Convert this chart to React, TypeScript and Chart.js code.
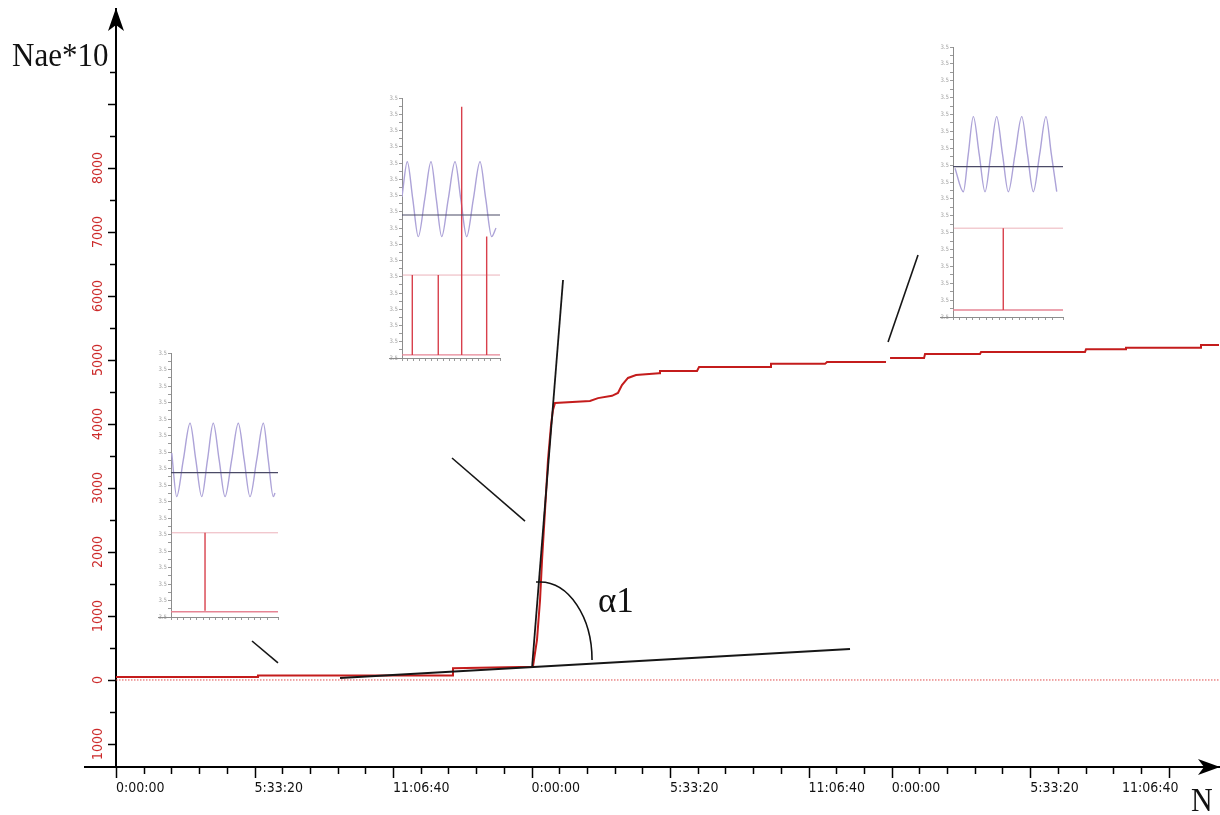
import React, { useEffect, useRef } from 'react';
import { Chart, registerables } from 'chart.js';

Chart.register(...registerables);

const TICK_FONT = "'DejaVu Sans Condensed', 'DejaVu Sans', sans-serif";
const SERIF_FONT = "'Liberation Serif', 'DejaVu Serif', serif";

// ---------------- main chart: axes ----------------
const xMin = 0;
const xMax = 159270;
const yMin = -1360;
const yMax = 10470;

const xLabelValues = [0, 20000, 40000, 60000, 80000, 100000, 112000, 132000, 145270];
const xLabels = ['0:00:00', '5:33:20', '11:06:40', '0:00:00', '5:33:20', '11:06:40', '0:00:00', '5:33:20', '11:06:40'];
const xMajorTicks = [0, 20000, 40000, 60000, 80000, 100000, 112000, 132000, 152000];
const xMinorStep = 4000;

const yLabelValues = [-1000, 0, 1000, 2000, 3000, 4000, 5000, 6000, 7000, 8000];
const yLabels = ['1000', '0', '1000', '2000', '3000', '4000', '5000', '6000', '7000', '8000'];
const yMarkValues = [-1000, -500, 0, 500, 1000, 1500, 2000, 2500, 3000, 3500, 4000, 4500, 5000, 5500, 6000, 6500, 7000, 7500, 8000, 8500, 9000, 9500];

// ---------------- main chart: series ----------------
const curveN = [0, 20500, 20500, 48660, 48660, 60200, 60790, 61230, 61520, 61950, 62380, 62820, 63100, 63390, 68440, 69600, 71620, 72480, 73060, 73930, 75090, 78410, 78550, 83900, 84190, 94440, 94580, 102380, 102670, 111190, 111480, 111770, 116680, 116820, 124760, 124910, 139920, 140070, 145700, 145840, 156530, 156670, 159270];
const curveNae = [45, 45, 70, 70, 185, 205, 625, 1250, 1875, 2655, 3440, 3985, 4220, 4330, 4360, 4405, 4440, 4485, 4610, 4720, 4765, 4795, 4830, 4830, 4890, 4890, 4940, 4940, 4970, 4970, null, 5030, 5030, 5095, 5095, 5125, 5125, 5170, 5170, 5190, 5190, 5235, 5235];

const zeroN = [0, 159270];
const zeroNae = [0, 0];

const tangentLowN = [32350, 105990];
const tangentLowNae = [31, 484];
const tangentSteepN = [60070, 64550];
const tangentSteepNae = [187, 6250];
const pointer1N = [19640, 23390];
const pointer1Nae = [609, 266];
const pointer2N = [48520, 59060];
const pointer2Nae = [3469, 2484];
const pointer3N = [115810, 111480];
const pointer3Nae = [6641, 5281];

// angle arc (centre in data units, radii in px)
const angleArc = { n: 61230, nae: 312, rx: 52, ry: 78 };

// free texts
const texts = {
  yTitle: { text: 'Nae*10', x: 12, y: 66, size: 31, sy: 1.12 },
  xTitle: { text: 'N', x: 1191, y: 811, size: 30, sy: 1.12 },
  angle: { text: 'α1', x: 598, y: 612, size: 35, sy: 1.0 },
};

// ---------------- insets ----------------
const inset1SineX = [0.7, 5.3, 11.5, 17.8, 23.2, 28.7, 34.1, 39.5, 45, 50.5, 56.7, 62.9, 68.4, 73.8, 80.1, 86.3, 90.9, 95.6, 97.2];
const inset1SineY = [62.1, 45.6, 59.5, 73.4, 59.5, 45.6, 59.5, 73.4, 59.5, 45.6, 59.5, 73.4, 59.5, 45.6, 59.5, 73.4, 59.5, 45.6, 47];
const inset1Levels = [54.7, 31.9, 2.0]; // baseline, threshold, bottom
const inset1SpikeX = [31.8];
const inset1SpikeTop = [31.9];
const inset1SpikeBase = [2.4];

const inset2SineX = [0, 5.4, 11, 16.6, 23.2, 29.6, 35, 40.5, 47.2, 54.1, 60, 66, 72.8, 79.6, 85.5, 91.5, 95.9];
const inset2SineY = [62, 75.5, 61.1, 46.7, 61.1, 75.5, 61.1, 46.7, 61.1, 75.5, 61.1, 46.7, 61.1, 75.5, 61.1, 46.7, 50];
const inset2Levels = [55, 31.9, 1.2];
const inset2SpikeX = [10.5, 37, 60.9, 86.4];
const inset2SpikeTop = [31.9, 31.9, 96.6, 46.7];
const inset2SpikeBase = [1.2, 1.2, 1.2, 1.2];

const inset3SineX = [1.8, 9.4, 13.9, 18.5, 23.8, 29.1, 34.4, 39.7, 45, 50.3, 56.4, 62.5, 67.7, 73, 78.8, 84.5, 89.4, 94.3];
const inset3SineY = [55.1, 46.4, 60.3, 74.2, 60.3, 46.4, 60.3, 74.2, 60.3, 46.4, 60.3, 74.2, 60.3, 46.4, 60.3, 74.2, 60.3, 46.4];
const inset3Levels = [55.7, 32.9, 2.6];
const inset3SpikeX = [45.7];
const inset3SpikeTop = [32.9];
const inset3SpikeBase = [2.6];

const insetTickLabel = '3.5';

const insets = [
  { frame: { left: 171, right: 278, top: 353, bottom: 617 }, sineX: inset1SineX, sineY: inset1SineY, levels: inset1Levels, spikeX: inset1SpikeX, spikeTop: inset1SpikeTop, spikeBase: inset1SpikeBase },
  { frame: { left: 402, right: 500, top: 98, bottom: 358 }, sineX: inset2SineX, sineY: inset2SineY, levels: inset2Levels, spikeX: inset2SpikeX, spikeTop: inset2SpikeTop, spikeBase: inset2SpikeBase },
  { frame: { left: 953, right: 1063, top: 47, bottom: 317 }, sineX: inset3SineX, sineY: inset3SineY, levels: inset3Levels, spikeX: inset3SpikeX, spikeTop: inset3SpikeTop, spikeBase: inset3SpikeBase },
];

const INSET_PAD = { left: 18, top: 4, right: 4, bottom: 9 };

// ---------------- helpers ----------------
const pts = (xs: number[], ys: (number | null)[]) => xs.map((x, i) => ({ x, y: ys[i] }));

function zeroPad(s: any) {
  s.paddingLeft = 0;
  s.paddingRight = 0;
  s.paddingTop = 0;
  s.paddingBottom = 0;
}

const mainDecor = {
  id: 'mainDecor',
  afterDraw(chart: any) {
    const { ctx, chartArea: ca, scales } = chart;
    const xs = scales.x;
    const ys = scales.y;
    ctx.save();
    ctx.strokeStyle = '#000';
    ctx.fillStyle = '#000';
    ctx.lineCap = 'butt';

    // x axis extension to the left of the y axis
    ctx.lineWidth = 2;
    ctx.beginPath();
    ctx.moveTo(ca.left - 32, ca.bottom);
    ctx.lineTo(ca.left, ca.bottom);
    ctx.stroke();
    // y axis reaches the arrow tip
    ctx.beginPath();
    ctx.moveTo(ca.left, ca.top);
    ctx.lineTo(ca.left, ca.top - 2);
    ctx.stroke();

    // y tick marks
    ctx.lineWidth = 1.5;
    yMarkValues.forEach((v) => {
      const py = Math.round(ys.getPixelForValue(v)) + 0.5;
      const len = v % 1000 === 0 ? 8 : 6;
      ctx.beginPath();
      ctx.moveTo(ca.left - len, py);
      ctx.lineTo(ca.left, py);
      ctx.stroke();
    });

    // x tick marks
    const drawX = (v: number, len: number) => {
      const px = Math.round(xs.getPixelForValue(v)) + 0.5;
      ctx.beginPath();
      ctx.moveTo(px, ca.bottom);
      ctx.lineTo(px, ca.bottom + len);
      ctx.stroke();
    };
    xMajorTicks.forEach((v, i) => {
      drawX(v, 11);
      const next = xMajorTicks[i + 1];
      if (next !== undefined) {
        for (let m = v + xMinorStep; m < next - 1; m += xMinorStep) drawX(m, 7);
      }
    });

    // arrow heads
    const tipX = ca.left;
    const tipY = ca.top - 2;
    ctx.beginPath();
    ctx.moveTo(tipX, tipY);
    ctx.lineTo(tipX + 8, tipY + 23);
    ctx.lineTo(tipX, tipY + 17);
    ctx.lineTo(tipX - 8, tipY + 23);
    ctx.closePath();
    ctx.fill();

    const ax = chart.width;
    const ay = ca.bottom;
    ctx.beginPath();
    ctx.moveTo(ax, ay);
    ctx.lineTo(ax - 22, ay - 8);
    ctx.lineTo(ax - 16, ay);
    ctx.lineTo(ax - 22, ay + 8);
    ctx.closePath();
    ctx.fill();

    // angle arc
    const cx = xs.getPixelForValue(angleArc.n);
    const cy = ys.getPixelForValue(angleArc.nae);
    ctx.lineWidth = 1.6;
    ctx.strokeStyle = '#111';
    ctx.beginPath();
    ctx.moveTo(cx - 4, cy - angleArc.ry);
    ctx.ellipse(cx, cy, angleArc.rx, angleArc.ry, 0, -Math.PI / 2, 0);
    ctx.stroke();

    // texts
    Object.values(texts).forEach((t) => {
      ctx.save();
      ctx.font = `${t.size}px ${SERIF_FONT}`;
      ctx.fillStyle = '#111';
      ctx.textAlign = 'left';
      ctx.textBaseline = 'alphabetic';
      ctx.translate(t.x, t.y);
      ctx.scale(1, t.sy);
      ctx.fillText(t.text, 0, 0);
      ctx.restore();
    });

    ctx.restore();
  },
};

function mainConfig(): any {
  const blackLine = (xsv: number[], ysv: number[], w: number) => ({
    data: pts(xsv, ysv),
    borderColor: '#161616',
    borderWidth: w,
    pointRadius: 0,
    fill: false,
  });
  return {
    type: 'line',
    data: {
      datasets: [
        blackLine(tangentLowN, tangentLowNae, 1.8),
        blackLine(tangentSteepN, tangentSteepNae, 1.8),
        blackLine(pointer1N, pointer1Nae, 1.6),
        blackLine(pointer2N, pointer2Nae, 1.6),
        blackLine(pointer3N, pointer3Nae, 1.6),
        {
          data: pts(curveN, curveNae),
          borderColor: '#c41c1c',
          borderWidth: 2,
          pointRadius: 0,
          spanGaps: false,
          fill: false,
        },
        {
          data: pts(zeroN, zeroNae),
          borderColor: '#e04a4a',
          borderWidth: 1,
          borderDash: [1.5, 1.5],
          pointRadius: 0,
          fill: false,
        },
      ],
    },
    options: {
      responsive: false,
      animation: false,
      devicePixelRatio: 1,
      events: [],
      layout: { padding: { top: 10, right: 1, left: 0, bottom: 0 } },
      plugins: { legend: { display: false }, tooltip: { enabled: false }, title: { display: false } },
      elements: { point: { radius: 0 }, line: { tension: 0 } },
      scales: {
        x: {
          type: 'linear',
          min: xMin,
          max: xMax,
          position: 'bottom',
          afterBuildTicks: (s: any) => {
            s.ticks = xLabelValues.map((v) => ({ value: v }));
          },
          afterFit: (s: any) => {
            s.height = 48;
            zeroPad(s);
          },
          ticks: {
            autoSkip: false,
            maxRotation: 0,
            minRotation: 0,
            align: 'start',
            padding: 13,
            color: '#111',
            font: { family: TICK_FONT, size: 14 },
            callback: (_v: any, i: number) => xLabels[i],
          },
          grid: { display: true, drawOnChartArea: false, drawTicks: false },
          border: { display: true, color: '#000', width: 2 },
        },
        y: {
          type: 'linear',
          min: yMin,
          max: yMax,
          position: 'left',
          afterBuildTicks: (s: any) => {
            s.ticks = yLabelValues.map((v) => ({ value: v }));
          },
          afterFit: (s: any) => {
            s.width = 116;
            zeroPad(s);
          },
          ticks: {
            autoSkip: false,
            minRotation: 90,
            maxRotation: 90,
            crossAlign: 'center',
            padding: 2,
            color: '#cc2a2a',
            font: { family: TICK_FONT, size: 14 },
            callback: (_v: any, i: number) => yLabels[i],
          },
          grid: { display: true, drawOnChartArea: false, drawTicks: false },
          border: { display: true, color: '#000', width: 2 },
        },
      },
    },
    plugins: [mainDecor],
  };
}

const insetDecor = {
  id: 'insetDecor',
  afterDraw(chart: any) {
    const { ctx, chartArea: ca } = chart;
    ctx.save();
    ctx.strokeStyle = '#8c8c8c';
    ctx.lineWidth = 1;
    ctx.beginPath();
    ctx.moveTo(ca.left - 13, ca.bottom + 0.5);
    ctx.lineTo(ca.left, ca.bottom + 0.5);
    ctx.stroke();
    ctx.restore();
  },
};

function insetConfig(inset: any): any {
  const [baseline, threshold, bottomLevel] = inset.levels;
  const spikeData: any[] = [];
  inset.spikeX.forEach((x: number, i: number) => {
    spikeData.push({ x, y: inset.spikeBase[i] }, { x, y: inset.spikeTop[i] }, { x, y: null });
  });
  const axisGrid = {
    display: true,
    drawOnChartArea: false,
    drawTicks: true,
    tickLength: 3,
    color: '#9a9a9a',
    tickColor: '#9a9a9a',
    lineWidth: 1,
  };
  return {
    type: 'line',
    data: {
      datasets: [
        { data: [{ x: 0, y: baseline }, { x: 100, y: baseline }], borderColor: '#4a4a66', borderWidth: 1.2, pointRadius: 0 },
        { data: spikeData, borderColor: '#d8404c', borderWidth: 1.4, pointRadius: 0, spanGaps: false },
        { data: pts(inset.sineX, inset.sineY), borderColor: '#ada3d8', borderWidth: 1.4, pointRadius: 0, cubicInterpolationMode: 'monotone' },
        { data: [{ x: 0.7, y: threshold }, { x: 100, y: threshold }], borderColor: '#ecb2ba', borderWidth: 1, pointRadius: 0 },
        { data: [{ x: 0, y: bottomLevel }, { x: 100, y: bottomLevel }], borderColor: '#e68494', borderWidth: 1.4, pointRadius: 0 },
      ],
    },
    options: {
      responsive: false,
      animation: false,
      devicePixelRatio: 1,
      events: [],
      layout: { padding: { top: INSET_PAD.top, right: INSET_PAD.right, left: 0, bottom: 0 } },
      plugins: { legend: { display: false }, tooltip: { enabled: false } },
      elements: { point: { radius: 0 }, line: { tension: 0 } },
      scales: {
        x: {
          type: 'linear',
          min: 0,
          max: 100,
          afterFit: (s: any) => {
            s.height = INSET_PAD.bottom;
            zeroPad(s);
          },
          ticks: { display: false, stepSize: 6 },
          grid: axisGrid,
          border: { display: true, color: '#8c8c8c', width: 1 },
        },
        y: {
          type: 'linear',
          min: 0,
          max: 100,
          afterFit: (s: any) => {
            s.width = INSET_PAD.left;
            zeroPad(s);
          },
          ticks: {
            stepSize: 3.125,
            autoSkip: false,
            padding: 1,
            color: '#a4a4a4',
            font: { family: TICK_FONT, size: 6 },
            callback: (_v: any, i: number) => (i % 2 === 0 ? insetTickLabel : ''),
          },
          grid: axisGrid,
          border: { display: true, color: '#8c8c8c', width: 1 },
        },
      },
    },
    plugins: [insetDecor],
  };
}

function InsetChart({ inset }: { inset: any }) {
  const ref = useRef<HTMLCanvasElement | null>(null);
  const f = inset.frame;
  const left = f.left - INSET_PAD.left;
  const top = f.top - INSET_PAD.top;
  const w = f.right - f.left + INSET_PAD.left + INSET_PAD.right;
  const h = f.bottom - f.top + INSET_PAD.top + INSET_PAD.bottom;
  useEffect(() => {
    if (!ref.current) return;
    const c = new Chart(ref.current, insetConfig(inset));
    return () => c.destroy();
  }, [inset]);
  return (
    <canvas
      ref={ref}
      width={w}
      height={h}
      style={{ position: 'absolute', left, top, width: w, height: h }}
    />
  );
}

export default function App() {
  const ref = useRef<HTMLCanvasElement | null>(null);
  useEffect(() => {
    if (!ref.current) return;
    const c = new Chart(ref.current, mainConfig());
    return () => c.destroy();
  }, []);
  return (
    <div style={{ position: 'fixed', left: 0, top: 0, width: 1220, height: 815, background: '#fff', overflow: 'hidden' }}>
      <canvas ref={ref} width={1220} height={815} style={{ position: 'absolute', left: 0, top: 0, width: 1220, height: 815 }} />
      {insets.map((ins, i) => (
        <InsetChart key={i} inset={ins} />
      ))}
    </div>
  );
}
